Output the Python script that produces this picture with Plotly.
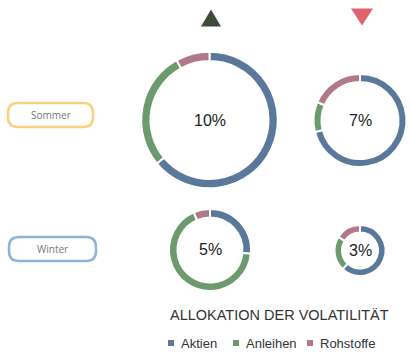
import plotly.graph_objects as go

W, H = 411, 357

categories = ["Aktien", "Anleihen", "Rohstoffe"]
colors = ["#5a7899", "#6b9a6c", "#b07888"]

seasons = ["Sommer", "Winter"]
season_colors = ["#f8d27e", "#8fb3d4"]

# allocation shares per donut (Aktien, Anleihen, Rohstoffe)
sommer_left = [64, 28, 8]
sommer_right = [71, 10.5, 18.5]
winter_left = [26.5, 67, 6.5]
winter_right = [62, 22, 16]
center_labels = ["10%", "7%", "5%", "3%"]

legend_title = "ALLOKATION DER VOLATILITÄT"

# layout (pixel geometry)
donuts = [
    (sommer_left, 209.5, 120, 68.3, 0.864),
    (sommer_right, 360, 120.5, 46.5, 0.828),
    (winter_left, 210, 250, 41, 0.793),
    (winter_right, 360, 250.5, 25.5, 0.706),
]

fig = go.Figure()

def px(x):
    return x / W

def py(y):
    return 1 - y / H

def ann(x, y, text, size, color, family="Liberation Sans", xanchor="center"):
    fig.add_annotation(x=px(x), y=py(y), xref="paper", yref="paper",
                       xanchor=xanchor, yanchor="middle", text=text,
                       showarrow=False, font=dict(family=family, size=size, color=color))

for (vals, cx, cy, r, hole), lab in zip(donuts, center_labels):
    fig.add_trace(go.Pie(
        labels=categories, values=vals, hole=hole, sort=False,
        direction="clockwise", rotation=0,
        marker=dict(colors=colors, line=dict(color="white", width=2)),
        textinfo="none", hoverinfo="label+percent", showlegend=False,
        domain=dict(x=[px(cx - r), px(cx + r)], y=[py(cy + r), py(cy - r)]),
    ))
    ann(cx, cy, lab, 16, "#222")

shapes = []

def tri(cx, cy, w, h, up, color):
    if up:
        path = f"M {px(cx - w/2)} {py(cy + h/2)} L {px(cx + w/2)} {py(cy + h/2)} L {px(cx)} {py(cy - h/2)} Z"
    else:
        path = f"M {px(cx - w/2)} {py(cy - h/2)} L {px(cx + w/2)} {py(cy - h/2)} L {px(cx)} {py(cy + h/2)} Z"
    return dict(type="path", xref="paper", yref="paper", path=path,
                fillcolor=color, line=dict(width=0))

shapes.append(tri(211, 18, 20, 17, True, "#3e4a3a"))
shapes.append(tri(362, 17, 22, 17, False, "#e0626f"))

def pill(x0, y0, x1, y1, rad, color):
    p = (f"M {px(x0 + rad)} {py(y0)} L {px(x1 - rad)} {py(y0)} "
         f"Q {px(x1)} {py(y0)} {px(x1)} {py(y0 + rad)} L {px(x1)} {py(y1 - rad)} "
         f"Q {px(x1)} {py(y1)} {px(x1 - rad)} {py(y1)} L {px(x0 + rad)} {py(y1)} "
         f"Q {px(x0)} {py(y1)} {px(x0)} {py(y1 - rad)} L {px(x0)} {py(y0 + rad)} "
         f"Q {px(x0)} {py(y0)} {px(x0 + rad)} {py(y0)} Z")
    return dict(type="path", xref="paper", yref="paper", path=p,
                fillcolor="white", line=dict(color=color, width=2.5))

boxes = [(8, 103, 93, 127, 115), (9, 237, 96, 261, 249)]
for (x0, y0, x1, y1, ty), name, col in zip(boxes, seasons, season_colors):
    shapes.append(pill(x0, y0, x1, y1, 10, col))
    ann((x0 + x1) / 2, ty, name, 10, "#777", family="Open Sans")

ann(168, 315, legend_title, 14.5, "#333", xanchor="left")

leg_x = [168, 233, 307]
for lx, name, col in zip(leg_x, categories, colors):
    shapes.append(dict(type="rect", xref="paper", yref="paper",
                       x0=px(lx), x1=px(lx + 6), y0=py(346), y1=py(340),
                       fillcolor=col, line=dict(width=0)))
    ann(lx + 11, 343, name, 13, "#333", xanchor="left")

fig.update_layout(
    width=W, height=H, margin=dict(l=0, r=0, t=0, b=0),
    paper_bgcolor="white", plot_bgcolor="white",
    shapes=shapes,
)

fig.write_html("out.html", config={"displayModeBar": False},
               post_script="document.body.style.margin='0';")
